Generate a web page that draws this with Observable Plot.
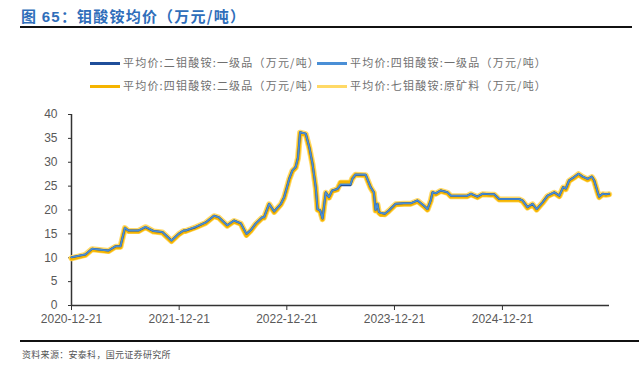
<!DOCTYPE html>
<html><head><meta charset="utf-8">
<script src="https://cdn.jsdelivr.net/npm/d3@7"></script>
<script src="https://cdn.jsdelivr.net/npm/@observablehq/plot@0.6"></script>
<style>
body{margin:0;width:639px;height:369px;position:relative;background:#fff;overflow:hidden;font-family:"Liberation Sans",Arial,sans-serif;}
#title{position:absolute;left:21px;top:5px;font:bold 15px "Noto Sans CJK SC","Liberation Sans",sans-serif;color:#2F6EBA;letter-spacing:1.2px;}
#title .n{font-family:"Liberation Sans",Arial,sans-serif;}
#rule1{position:absolute;left:20px;top:26px;width:612px;height:2px;background:#111;}
#rule2{position:absolute;left:20px;top:340px;width:619px;height:2px;background:#111;}
#source{position:absolute;left:22px;top:348px;font:9px "Noto Sans CJK SC",sans-serif;color:#555;letter-spacing:0.3px;}
.leg{position:absolute;font:11px "Noto Sans CJK SC",sans-serif;color:#707070;white-space:nowrap;line-height:14px;letter-spacing:1.2px;}
.sw{display:inline-block;width:30px;height:3px;vertical-align:middle;margin-right:3px;position:relative;top:-1px;}
#chart{position:absolute;left:0;top:100px;}
</style></head>
<body>
<div id="title">图 <span class="n">65</span>：钼酸铵均价（万元/吨）</div>
<div id="rule1"></div>
<div id="legend"></div>
<div id="chart"></div>
<div id="rule2"></div>
<div id="source">资料来源：安泰科，国元证券研究所</div>
<script>
const seriesNames = [
  "平均价:二钼酸铵:一级品（万元/吨）",
  "平均价:四钼酸铵:一级品（万元/吨）",
  "平均价:四钼酸铵:二级品（万元/吨）",
  "平均价:七钼酸铵:原矿料（万元/吨）"
];
const seriesColors = ["#1F4E9A", "#4A8FD6", "#F5B400", "#FFD966"];
const dates = ["2020-12-21","2021-02-06","2021-03-01","2021-04-25","2021-05-19","2021-06-05","2021-06-20","2021-07-02","2021-08-05","2021-08-29","2021-09-25","2021-10-25","2021-11-25","2021-12-19","2022-01-05","2022-01-12","2022-02-15","2022-03-21","2022-04-18","2022-05-04","2022-06-02","2022-06-25","2022-07-18","2022-08-06","2022-08-21","2022-09-07","2022-09-29","2022-10-05","2022-10-22","2022-11-08","2022-12-01","2022-12-12","2022-12-23","2022-12-29","2023-01-09","2023-01-20","2023-01-28","2023-02-04","2023-02-23","2023-03-07","2023-03-18","2023-03-29","2023-04-04","2023-04-13","2023-04-21","2023-05-02","2023-05-13","2023-05-24","2023-06-10","2023-06-21","2023-07-25","2023-07-31","2023-08-11","2023-09-14","2023-10-01","2023-10-12","2023-10-18","2023-10-24","2023-10-29","2023-11-04","2023-11-18","2023-12-02","2023-12-25","2024-01-22","2024-02-14","2024-03-08","2024-03-30","2024-04-11","2024-04-22","2024-04-28","2024-05-09","2024-05-26","2024-06-18","2024-06-29","2024-08-24","2024-09-05","2024-09-27","2024-10-14","2024-11-12","2024-11-23","2024-12-10","2025-02-16","2025-02-27","2025-03-16","2025-04-02","2025-04-16","2025-05-06","2025-05-23","2025-06-15","2025-07-02","2025-07-15","2025-07-24","2025-08-04","2025-08-21","2025-09-05","2025-09-19","2025-10-06","2025-10-20","2025-10-28","2025-11-09","2025-11-14","2025-11-26","2025-12-07","2025-12-18"];
const amm2First = [10.1,10.7,11.9,11.5,12.4,12.4,16.2,15.7,15.7,16.4,15.6,15.4,13.6,15.0,15.7,15.7,16.4,17.4,18.8,18.5,16.8,17.8,17.2,15.0,15.8,17.2,18.5,18.5,21.3,19.7,21.3,22.7,25.1,26.5,28.3,29.0,31.0,36.3,36.0,33.2,29.7,24.8,20.2,19.9,18.2,23.7,22.7,24.1,24.4,25.2,25.2,26.5,27.4,27.4,24.8,23.7,20.0,21.3,19.6,19.4,19.2,19.9,21.3,21.4,21.4,22.0,20.9,20.2,22.0,23.7,23.5,24.1,23.7,23.0,23.0,23.4,22.8,23.4,23.3,23.3,22.3,22.3,22.0,20.6,21.3,20.2,21.6,23.0,23.7,23.0,24.8,24.5,26.2,26.9,27.6,27.0,26.5,27.0,26.2,23.7,22.8,23.4,23.3,23.4];
const amm4First = [10.1,10.7,11.9,11.5,12.4,12.4,16.3,15.7,15.7,16.5,15.6,15.4,13.6,15.0,15.7,15.7,16.5,17.4,18.8,18.5,16.8,17.8,17.2,15.0,15.8,17.2,18.5,18.5,21.3,19.7,21.3,22.7,25.1,26.5,28.3,29.0,31.0,36.3,36.0,33.2,29.7,24.8,20.2,19.9,18.2,23.7,22.7,24.1,24.4,25.4,25.4,26.5,27.5,27.4,24.8,23.7,20.0,21.3,19.6,19.4,19.2,19.9,21.3,21.4,21.4,22.0,20.9,20.2,22.0,23.7,23.5,24.1,23.7,23.0,23.0,23.4,22.8,23.4,23.3,23.3,22.3,22.3,22.0,20.6,21.3,20.2,21.6,23.0,23.7,23.0,24.8,24.5,26.2,26.9,27.6,27.0,26.5,27.0,26.2,23.7,22.8,23.4,23.3,23.4];
const amm4Second = [9.8,10.5,11.7,11.3,12.2,12.2,16.2,15.5,15.5,16.3,15.4,15.2,13.4,14.8,15.5,15.5,16.3,17.2,18.6,18.3,16.6,17.6,17.0,14.6,15.6,17.0,18.3,18.3,21.1,19.5,21.1,22.5,24.9,26.3,28.1,28.8,30.8,36.1,35.8,33.0,29.5,24.6,20.0,19.7,18.0,23.5,22.5,23.9,24.2,25.8,25.8,26.6,27.4,27.2,24.6,23.5,19.8,21.1,19.4,19.0,19.0,19.7,21.1,21.2,21.2,21.8,20.7,20.0,21.8,23.5,23.3,23.9,23.5,22.8,22.8,23.2,22.6,23.2,23.1,23.1,22.1,22.1,21.8,20.4,21.1,20.0,21.4,22.8,23.5,22.8,24.6,24.3,26.0,26.7,27.4,26.8,26.3,26.8,26.0,23.5,22.6,23.2,23.1,23.2];
const amm7Raw = [9.9,10.6,11.8,11.4,12.3,12.3,16.2,15.6,15.6,16.4,15.5,15.3,13.5,14.9,15.6,15.6,16.4,17.3,18.7,18.4,16.7,17.7,17.1,14.8,15.7,17.1,18.4,18.4,21.2,19.6,21.2,22.6,25.0,26.4,28.2,28.9,30.9,36.2,35.9,33.1,29.6,24.7,20.1,19.8,18.1,23.6,22.6,24.0,24.3,25.7,25.7,26.6,27.4,27.3,24.7,23.6,19.9,21.2,19.5,19.2,19.1,19.8,21.2,21.3,21.3,21.9,20.8,20.1,21.9,23.6,23.4,24.0,23.6,22.9,22.9,23.3,22.7,23.3,23.2,23.2,22.2,22.2,21.9,20.5,21.2,20.1,21.5,22.9,23.6,22.9,24.7,24.4,26.1,26.8,27.5,26.9,26.4,26.9,26.1,23.6,22.7,23.3,23.2,23.3];
const yTicks = [0,5,10,15,20,25,30,35,40];
const xTickLabels = ["2020-12-21","2021-12-21","2022-12-21","2023-12-21","2024-12-21"];

const valuesBySeries = [amm2First, amm4First, amm4Second, amm7Raw];
const rows = [];
valuesBySeries.forEach((vals, s) => {
  vals.forEach((v, i) => rows.push({series: seriesNames[s], date: new Date(dates[i] + "T00:00:00"), value: v}));
});

// legend
const leg = document.getElementById("legend");
const legPos = [[90,55],[317,55],[90,78],[317,78]];
seriesNames.forEach((n,i)=>{
  const d = document.createElement("div");
  d.className = "leg";
  d.style.left = legPos[i][0] + "px";
  d.style.top = legPos[i][1] + "px";
  d.innerHTML = `<span class="sw" style="background:${seriesColors[i]}"></span>${n}`;
  leg.appendChild(d);
});

const widths = [2, 1.6, 3.8, 6];
const drawOrder = [3, 2, 0, 1];
const marks = [];
drawOrder.forEach(s => {
  marks.push(Plot.line(rows.filter(r => r.series === seriesNames[s]), {
    x: "date", y: "value", stroke: seriesColors[s], strokeWidth: widths[s], strokeLinejoin: "round", strokeLinecap: "round"
  }));
});

const chart = Plot.plot({
  width: 639,
  height: 230,
  marginLeft: 71,
  marginRight: 30,
  marginTop: 14,
  marginBottom: 25,
  style: {fontFamily: '"Liberation Sans", Arial, sans-serif', fontSize: "12px", color: "#595959", background: "transparent"},
  x: {type: "time", domain: [new Date("2020-12-21T00:00:00"), new Date("2025-12-19T00:00:00")]},
  y: {domain: [0, 40]},
  marks: [
    Plot.axisY({ticks: yTicks, tickSize: 3, tickPadding: 11, label: null, stroke: "#333"}),
    Plot.axisX({ticks: xTickLabels.map(t => new Date(t + "T00:00:00")), tickFormat: d3.timeFormat("%Y-%m-%d"), tickSize: 5, tickPadding: 4, label: null, stroke: "#333"}),
    Plot.ruleY([0], {stroke: "#333", strokeWidth: 1.5}),
    Plot.ruleX([new Date("2020-12-21T00:00:00")], {stroke: "#333", strokeWidth: 1.5}),
    ...marks
  ]
});
document.getElementById("chart").appendChild(chart);
</script>
</body></html>
